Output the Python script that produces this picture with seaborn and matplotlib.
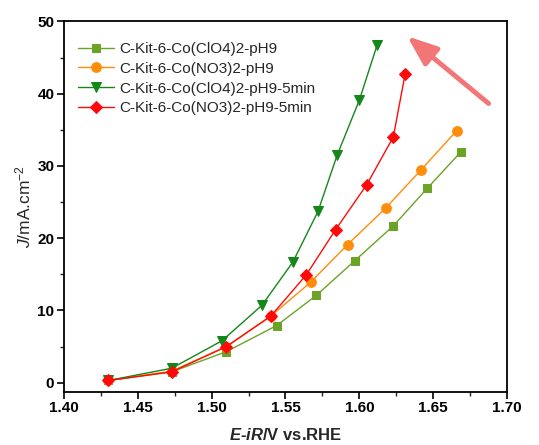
import matplotlib
matplotlib.use("Agg")
import matplotlib.pyplot as plt
from matplotlib.ticker import MultipleLocator
import seaborn as sns
import pandas as pd

# Data (potential vs RHE, current density)
labels = ['C-Kit-6-Co(ClO4)2-pH9', 'C-Kit-6-Co(NO3)2-pH9',
          'C-Kit-6-Co(ClO4)2-pH9-5min', 'C-Kit-6-Co(NO3)2-pH9-5min']

x_clo4 = [1.430, 1.473, 1.510, 1.544, 1.571, 1.597, 1.623, 1.646, 1.669]
y_clo4 = [0.3, 1.5, 4.3, 7.9, 12.1, 16.9, 21.7, 26.9, 32.0]

x_no3 = [1.430, 1.473, 1.510, 1.540, 1.567, 1.592, 1.618, 1.642, 1.666]
y_no3 = [0.3, 1.6, 5.0, 9.2, 13.9, 19.1, 24.2, 29.5, 34.9]

x_clo4_5 = [1.430, 1.473, 1.507, 1.534, 1.555, 1.572, 1.585, 1.600, 1.612]
y_clo4_5 = [0.3, 2.0, 5.8, 10.7, 16.7, 23.7, 31.5, 39.1, 46.7]

x_no3_5 = [1.430, 1.473, 1.510, 1.540, 1.564, 1.584, 1.605, 1.623, 1.631]
y_no3_5 = [0.3, 1.5, 5.0, 9.2, 14.9, 21.2, 27.4, 34.0, 42.7]

colors = ['#6ba326', '#ff8c0a', '#14871a', '#ff0a0a']
markers = ['s', 'o', 'v', 'D']
sizes = [6, 7, 7.5, 6.5]

sns.set_style("ticks")
plt.rcParams['font.family'] = ['Liberation Sans', 'DejaVu Sans']
plt.rcParams['mathtext.fontset'] = 'custom'
plt.rcParams['mathtext.rm'] = 'Liberation Sans'
plt.rcParams['mathtext.it'] = 'Liberation Sans:italic'
plt.rcParams['mathtext.bf'] = 'Liberation Sans:bold'
plt.rcParams['mathtext.bfit'] = 'Liberation Sans:bold:italic'

fig = plt.figure(figsize=(5.39, 4.45), dpi=100)
ax = fig.add_axes([0.1187, 0.1198, 0.8219, 0.8319])

series = [(x_clo4, y_clo4), (x_no3, y_no3), (x_clo4_5, y_clo4_5), (x_no3_5, y_no3_5)]
for (xs, ys), lab, c, m, s in zip(series, labels, colors, markers, sizes):
    df = pd.DataFrame({'E': xs, 'J': ys})
    sns.lineplot(data=df, x='E', y='J', ax=ax, color=c, marker=m, markersize=s,
                 markeredgecolor=c, linewidth=1.0, sort=False, label=lab)

ax.set_xlim(1.40, 1.70)
ax.set_ylim(-1.25, 50)
ax.xaxis.set_minor_locator(MultipleLocator(0.025))
ax.yaxis.set_minor_locator(MultipleLocator(5))
ax.set_xticks([1.40, 1.45, 1.50, 1.55, 1.60, 1.65, 1.70])
ax.set_xticklabels(['1.40', '1.45', '1.50', '1.55', '1.60', '1.65', '1.70'])
ax.set_yticks([0, 10, 20, 30, 40, 50])

for sp in ax.spines.values():
    sp.set_visible(True)
    sp.set_linewidth(1.3)
    sp.set_color('black')
ax.tick_params(which='major', direction='out', length=5, width=1.2, pad=2,
               labelsize=11, top=False, right=False, colors='black')
ax.tick_params(which='minor', direction='out', length=3, width=1.0,
               top=False, right=False)
for t in ax.get_xticklabels() + ax.get_yticklabels():
    t.set_fontweight('bold')

ax.set_xlabel(r'$\mathbfit{E}$-$\mathbfit{iR}$/V vs.RHE',
              fontsize=12, fontweight='bold', labelpad=8)
ax.set_ylabel(r'$\mathit{J}$/mA.cm$^{-2}$', fontsize=12.5, labelpad=3)

leg = ax.legend(loc='upper left', bbox_to_anchor=(0.0, 0.982), frameon=False,
                fontsize=11, handlelength=2.4, handletextpad=0.35,
                labelspacing=0.38)

# trend arrow
ax.annotate('', xy=(1.631, 48.2), xytext=(1.689, 38.4),
            arrowprops=dict(arrowstyle='-|>,head_length=1.8,head_width=0.7',
                            lw=3.5, color='#f37575'))

fig.savefig('out.png', dpi=100)
